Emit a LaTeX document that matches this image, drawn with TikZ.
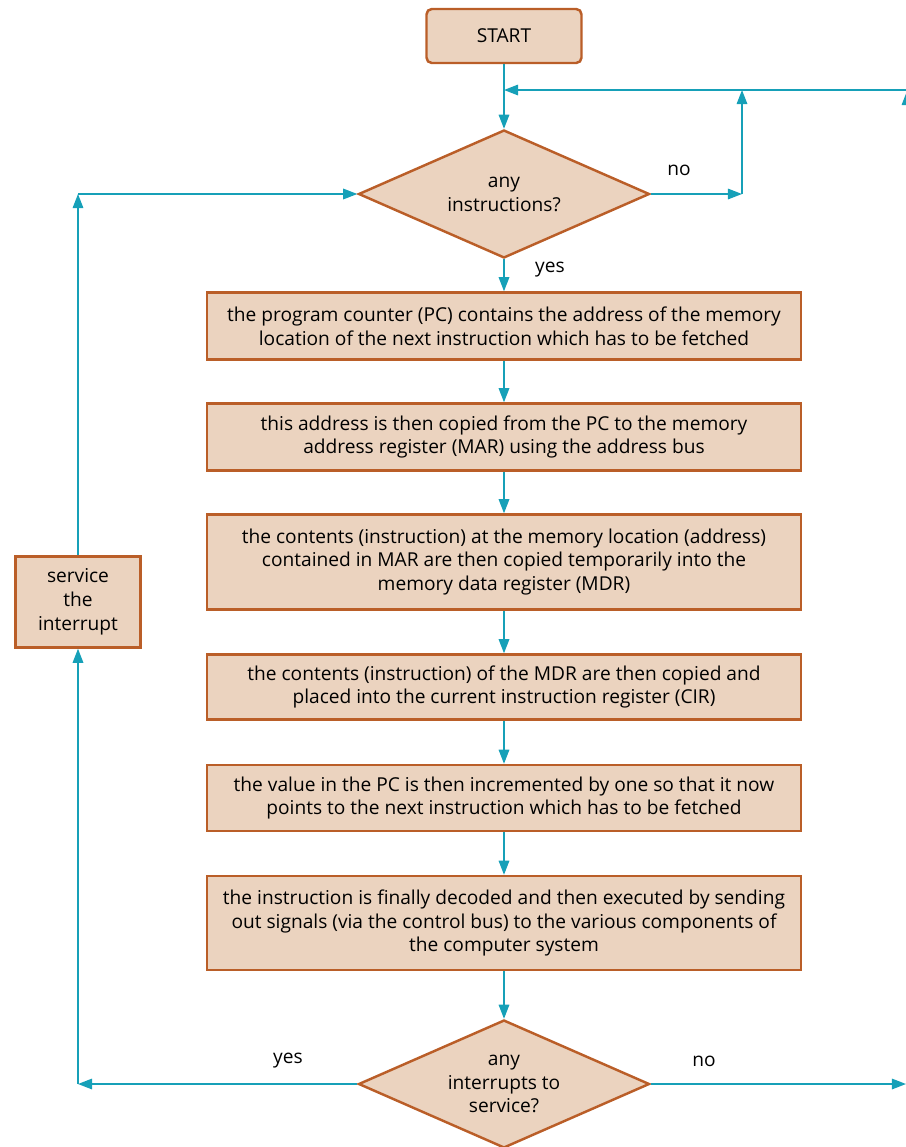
\documentclass[tikz,border=0pt]{standalone}
\usepackage{fontspec}
\setmainfont{Open Sans}
\usetikzlibrary{shapes.geometric, arrows.meta}

\definecolor{boxfill}{RGB}{235,211,191}
\definecolor{boxline}{RGB}{186,94,40}
\definecolor{flow}{RGB}{22,160,184}

\tikzset{
    stepbox/.style={draw=boxline, fill=boxfill, line width=1.4pt, align=center,
        minimum width=11.88cm, inner sep=2pt, font=\fontsize{10.9}{13.6}\selectfont},
    startbox/.style={stepbox, rounded corners=3pt, minimum width=3.1cm, minimum height=1.08cm},
    question/.style={diamond, aspect=2.27, draw=boxline, fill=boxfill, line width=1.4pt, align=center,
        minimum width=5.82cm, minimum height=2.56cm, inner sep=0pt,
        font=\fontsize{10.9}{13.6}\selectfont},
    flowline/.style={draw=flow, line width=0.8pt, -{Triangle[length=8pt,width=6pt]}},
    plainline/.style={draw=flow, line width=0.8pt},
    lbl/.style={font=\fontsize{10.9}{13.6}\selectfont}
}

\begin{document}
\begin{tikzpicture}[x=0.02cm, y=-0.02cm]
    \useasboundingbox (0,0) rectangle (906,1147);

    % riquadri
    \node[startbox] (start) at (504,36) {START};
    \node[question] (instr) at (504,194) {any\\instructions?};
    \node[stepbox, minimum height=1.34cm] (pc) at (504,326)
        {the program counter (PC) contains the address of the memory\\location of the next instruction which has to be fetched};
    \node[stepbox, minimum height=1.34cm] (mar) at (504,437)
        {this address is then copied from the PC to the memory\\address register (MAR) using the address bus};
    \node[stepbox, minimum height=1.9cm] (mdr) at (504,562)
        {the contents (instruction) at the memory location (address)\\contained in MAR are then copied temporarily into the\\memory data register (MDR)};
    \node[stepbox, minimum height=1.3cm] (cir) at (504,687)
        {the contents (instruction) of the MDR are then copied and\\placed into the current instruction register (CIR)};
    \node[stepbox, minimum height=1.32cm] (inc) at (504,798)
        {the value in the PC is then incremented by one so that it now\\points to the next instruction which has to be fetched};
    \node[stepbox, minimum height=1.88cm] (exec) at (504,923)
        {the instruction is finally decoded and then executed by sending\\out signals (via the control bus) to the various components of\\the computer system};
    \node[question] (intr) at (504,1084) {any\\interrupts to\\service?};
    \node[stepbox, minimum width=2.5cm, minimum height=1.82cm] (serv) at (78,602)
        {service\\the\\interrupt};

    % punti di svolta
    \coordinate (topjoin) at (504,90);
    \coordinate (topedge) at (906,90);
    \coordinate (nocorner) at (742,194);
    \coordinate (nojoin) at (742,90);
    \coordinate (leftlow) at (78,1084);
    \coordinate (lefthigh) at (78,194);
    \coordinate (rightlow) at (906,1084);
    \coordinate (cutlow) at (907,140);
    \coordinate (cuthigh) at (907,91);

    % flusso principale
    \draw[plainline] (start) -- (topjoin);
    \draw[flowline] (topjoin) -- (instr);
    \draw[flowline] (instr) -- (pc);
    \draw[flowline] (pc) -- (mar);
    \draw[flowline] (mar) -- (mdr);
    \draw[flowline] (mdr) -- (cir);
    \draw[flowline] (cir) -- (inc);
    \draw[flowline] (inc) -- (exec);
    \draw[flowline] (exec) -- (intr);

    % ritorno in alto
    \draw[flowline] (topedge) -- (topjoin);
    \draw[flowline] (instr.east) -- (nocorner);
    \draw[flowline] (nocorner) -- (nojoin);
    \draw[flowline] (cutlow) -- (cuthigh);

    % interruzioni
    \draw[flowline] (intr.west) -- (leftlow);
    \draw[flowline] (leftlow) -- (serv);
    \draw[flowline] (serv) -- (lefthigh);
    \draw[flowline] (lefthigh) -- (instr.west);
    \draw[flowline] (intr.east) -- (rightlow);

    % etichette
    \node[lbl] (noA) at (679,170) {no};
    \node[lbl] (yesA) at (550,270) {yes};
    \node[lbl] (yesB) at (288,1061) {yes};
    \node[lbl] (noB) at (704,1061) {no};
\end{tikzpicture}
\end{document}
